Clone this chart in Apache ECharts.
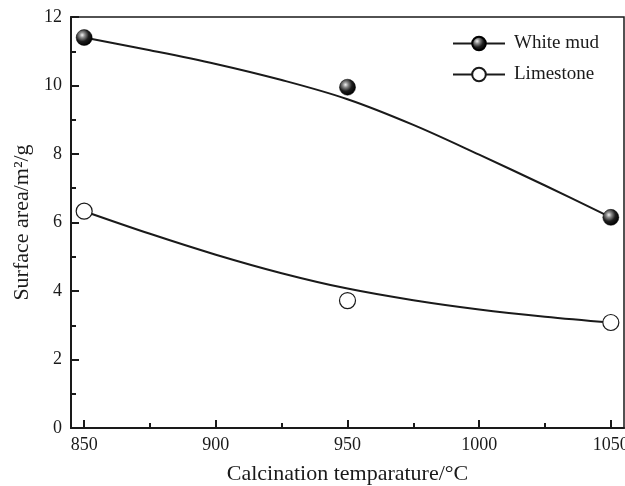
<!DOCTYPE html>
<html>
<head>
<meta charset="utf-8">
<script src="https://cdn.jsdelivr.net/npm/echarts@6/dist/echarts.min.js"></script>
<style>
  html, body { margin: 0; padding: 0; background: #fff; }
  #chart { width: 625px; height: 486px; }
</style>
</head>
<body>
<div id="chart"></div>
<script>
// measured points
const temps = [850, 950, 1050]
const whiteMud = [11.4, 9.95, 6.15]
const limestone = [6.33, 3.72, 3.08]

// fitted curves
const curveTemps = [850, 875, 900, 925, 950, 975, 1000, 1025, 1050]
const whiteMudFit = [11.4, 11.03, 10.63, 10.16, 9.6, 8.85, 7.98, 7.08, 6.15]
const limestoneFit = [6.33, 5.67, 5.06, 4.52, 4.07, 3.73, 3.46, 3.25, 3.08]

const majorTicks = [850, 900, 950, 1000, 1050]
const minorTicks = [875, 925, 975, 1025]

const font = 'Liberation Serif'
const ink = '#1a1a1a'

const ball = new echarts.graphic.RadialGradient(0.38, 0.35, 0.65, [
  { offset: 0, color: '#f2f2f2' },
  { offset: 0.25, color: '#8a8a8a' },
  { offset: 0.6, color: '#1e1e1e' },
  { offset: 1, color: '#000' }
])

const chart = echarts.init(document.getElementById('chart'))

const xBase = {
  type: 'value',
  min: 845,
  max: 1055,
  splitLine: { show: false }
}

chart.setOption({
  animation: false,
  backgroundColor: '#fff',
  grid: {
    left: 71, right: 1, top: 17, bottom: 58,
    outerBoundsMode: 'none',
    containLabel: false,
    show: true, borderColor: ink, borderWidth: 1.5
  },
  legend: {
    data: ['White mud', 'Limestone'],
    left: 452,
    top: 34,
    orient: 'vertical',
    itemWidth: 52,
    itemHeight: 17,
    itemGap: 12,
    padding: 0,
    textStyle: { fontFamily: font, fontSize: 19, color: ink, padding: [0, 0, 0, 4] }
  },
  xAxis: [
    {
      ...xBase,
      name: 'Calcination temparature/°C',
      nameLocation: 'middle',
      nameGap: 35,
      nameTextStyle: { fontFamily: font, fontSize: 22, color: ink },
      axisLine: { lineStyle: { color: ink, width: 2 } },
      axisTick: { inside: true, length: 8, lineStyle: { color: ink, width: 2 }, customValues: majorTicks },
      axisLabel: { fontFamily: font, fontSize: 18, color: ink, margin: 8, customValues: majorTicks, formatter: v => String(v) }
    },
    {
      ...xBase,
      position: 'bottom',
      axisLine: { show: false },
      axisTick: { inside: true, length: 5, lineStyle: { color: ink, width: 2 }, customValues: minorTicks },
      axisLabel: { show: false }
    }
  ],
  yAxis: {
    type: 'value',
    min: 0,
    max: 12,
    interval: 2,
    name: 'Surface area/m²/g',
    nameLocation: 'middle',
    nameGap: 38,
    nameTextStyle: { fontFamily: font, fontSize: 22, color: ink },
    splitLine: { show: false },
    axisLine: { lineStyle: { color: ink, width: 2 } },
    axisTick: { inside: true, length: 8, lineStyle: { color: ink, width: 2 } },
    minorTick: { show: true, splitNumber: 2, length: 5, lineStyle: { color: ink, width: 2 } },
    axisLabel: { fontFamily: font, fontSize: 18, color: ink, margin: 9 }
  },
  series: [
    {
      name: 'White mud',
      type: 'line',
      smooth: 0.35,
      showSymbol: false,
      symbol: 'circle',
      symbolSize: 16,
      itemStyle: { color: ball, borderColor: '#000', borderWidth: 0.5 },
      lineStyle: { color: ink, width: 2 },
      data: curveTemps.map((t, i) => [t, whiteMudFit[i]]),
      z: 2
    },
    {
      name: 'Limestone',
      type: 'line',
      smooth: 0.35,
      showSymbol: false,
      symbol: 'circle',
      symbolSize: 16,
      itemStyle: { color: '#fff', borderColor: ink, borderWidth: 1.2 },
      lineStyle: { color: ink, width: 2 },
      data: curveTemps.map((t, i) => [t, limestoneFit[i]]),
      z: 2
    },
    {
      name: 'White mud data',
      type: 'scatter',
      symbol: 'circle',
      symbolSize: 16,
      itemStyle: { color: ball, borderColor: '#000', borderWidth: 0.5, opacity: 1 },
      data: temps.map((t, i) => [t, whiteMud[i]]),
      z: 5
    },
    {
      name: 'Limestone data',
      type: 'scatter',
      symbol: 'circle',
      symbolSize: 16,
      itemStyle: { color: '#fff', borderColor: ink, borderWidth: 1.2, opacity: 1 },
      data: temps.map((t, i) => [t, limestone[i]]),
      z: 5
    }
  ]
})
</script>
</body>
</html>
